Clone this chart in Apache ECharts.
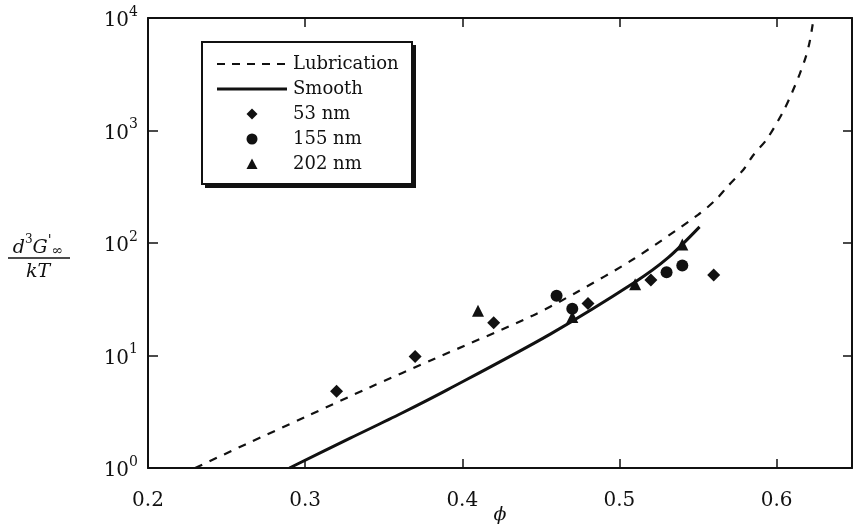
<!DOCTYPE html>
<html><head><meta charset="utf-8">
<script src="https://cdn.jsdelivr.net/npm/echarts@6/dist/echarts.min.js"></script>
<style>html,body{margin:0;padding:0;background:#fff}#c{width:853px;height:526px}</style>
</head><body><div id="c"></div>
<script>
// ---- data ----
const xMin = 0.2, xMax = 0.648, xStep = 0.1;
const yMin = 1, yMax = 10000;
const xTickLabels = ['0.2', '0.3', '0.4', '0.5', '0.6'];
const yTickExponents = [0, 1, 2, 3, 4];

const lubricationX = [0.230, 0.262, 0.301, 0.341, 0.382, 0.445, 0.472, 0.509, 0.550, 0.561, 0.569, 0.579, 0.585, 0.594, 0.6045, 0.610, 0.6147, 0.6185, 0.621, 0.623];
const lubricationY = [1.0, 1.62, 2.88, 5.2, 9.3, 22.7, 36, 72, 178, 240, 320, 450, 600, 845, 1500, 2200, 3170, 4470, 6080, 8800];

const smoothX = [0.290, 0.329, 0.361, 0.391, 0.456, 0.510, 0.531, 0.551];
const smoothY = [1.0, 1.85, 3.05, 5.0, 15.5, 45, 74, 139];

const nm53X = [0.32, 0.37, 0.42, 0.48, 0.52, 0.56];
const nm53Y = [4.8, 9.8, 19.5, 29, 47, 52];

const nm155X = [0.46, 0.47, 0.53, 0.54];
const nm155Y = [34, 26, 55, 63];

const nm202X = [0.41, 0.47, 0.51, 0.54];
const nm202Y = [25, 22, 43, 97];

const seriesNames = ['Lubrication', 'Smooth', '53 nm', '155 nm', '202 nm'];

// ---- build ----
const zip = (xs, ys) => xs.map((x, i) => [x, ys[i]]);
const FONT = 'DejaVu Serif';
const INK = '#111111';

// legend icons: a fixed 70x11 frame (two move-to points) so that symbols keep their shape
const FRAME = 'M0 0 M70 11 ';
const iconDashed = 'path://' + FRAME + [0, 15, 30, 45, 60].map(x => `M${x} 4.5 L${x + 8} 4.5 L${x + 8} 6.6 L${x} 6.6 Z`).join(' ');
const iconSolid = 'path://' + FRAME + 'M0 4 L70 4 L70 7 L0 7 Z';
const iconDiamond = 'path://' + FRAME + 'M35 0 L40.5 5.5 L35 11 L29.5 5.5 Z';
const iconCircle = 'path://' + FRAME + 'M40.5 5.5 A5.5 5.5 0 1 1 29.5 5.5 A5.5 5.5 0 1 1 40.5 5.5 Z';
const iconTriangle = 'path://' + FRAME + 'M35 0 L40.5 10.5 L29.5 10.5 Z';
const legendIcons = [iconDashed, iconSolid, iconDiamond, iconCircle, iconTriangle];

const chart = echarts.init(document.getElementById('c'), null, {renderer: 'canvas'});

const axisLineStyle = {lineStyle: {color: INK, width: 2}};

const option = {
  backgroundColor: '#ffffff',
  animation: false,
  grid: {left: 148, right: 1, top: 18, bottom: 58, outerBoundsMode: 'none'},
  xAxis: [
    {
      type: 'value', position: 'bottom', min: xMin, max: xMax, interval: xStep,
      axisLine: axisLineStyle,
      axisTick: {inside: true, length: 9, lineStyle: {color: INK, width: 1.5}},
      splitLine: {show: false},
      axisLabel: {
        margin: 23, showMaxLabel: false,
        fontFamily: FONT, fontSize: 20, color: INK,
        formatter: v => {
          const i = Math.round((v - xMin) / xStep);
          return (Math.abs(v - (xMin + i * xStep)) < 1e-6 && xTickLabels[i]) ? xTickLabels[i] : '';
        }
      },
      name: 'ϕ', nameLocation: 'middle', nameGap: 38, nameMoveOverlap: false,
      nameTextStyle: {fontFamily: FONT, fontStyle: 'italic', fontSize: 19, color: INK}
    },
    {
      type: 'value', position: 'top', min: xMin, max: xMax, interval: xStep,
      axisLine: axisLineStyle,
      axisTick: {inside: true, length: 9, lineStyle: {color: INK, width: 1.5}},
      axisLabel: {show: false}, splitLine: {show: false}
    }
  ],
  yAxis: [
    {
      type: 'log', logBase: 10, min: yMin, max: yMax, position: 'left',
      axisLine: axisLineStyle,
      axisTick: {inside: true, length: 10, lineStyle: {color: INK, width: 1.5}},
      minorTick: {show: false},
      splitLine: {show: false},
      axisLabel: {
        margin: 10,
        formatter: v => {
          const e = Math.round(Math.log10(v));
          return yTickExponents.includes(e) ? '{b|10}{s|' + e + '}' : '';
        },
        rich: {
          b: {fontFamily: FONT, fontSize: 20, color: INK, lineHeight: 26, verticalAlign: 'bottom'},
          s: {fontFamily: FONT, fontSize: 14, color: INK, lineHeight: 14, verticalAlign: 'top'}
        }
      }
    },
    {
      type: 'log', logBase: 10, min: yMin, max: yMax, position: 'right',
      axisLine: axisLineStyle,
      axisTick: {inside: true, length: 9, lineStyle: {color: INK, width: 1.5}},
      axisLabel: {show: false}, splitLine: {show: false}
    }
  ],
  legend: {
    orient: 'vertical', left: 217, top: 55, padding: 0,
    itemWidth: 70, itemHeight: 11, itemGap: 7,
    selectedMode: false, z: 20, symbolKeepAspect: true,
    data: seriesNames.map((n, i) => ({name: n, icon: legendIcons[i], itemStyle: {color: INK, opacity: 1}})),
    textStyle: {fontFamily: FONT, fontSize: 18, color: INK, padding: [0, 0, 0, 1]}
  },
  graphic: [
    {type: 'rect', z: 5, shape: {x: 205, y: 45, width: 211, height: 143}, style: {fill: INK}},
    {type: 'rect', z: 6, shape: {x: 202, y: 42, width: 210, height: 142}, style: {fill: '#fff', stroke: INK, lineWidth: 2}},
    {
      type: 'text', z: 10, x: 38, y: 246,
      style: {
        text: '{i|d}{p|3}{i|G}{r|\'}{q|∞}',
        align: 'center', verticalAlign: 'middle',
        rich: {
          i: {fontFamily: FONT, fontStyle: 'italic', fontSize: 19, fill: INK, lineHeight: 24, verticalAlign: 'bottom'},
          p: {fontFamily: FONT, fontSize: 12, fill: INK, lineHeight: 12, verticalAlign: 'top'},
          r: {fontFamily: FONT, fontStyle: 'italic', fontSize: 14, fill: INK, lineHeight: 14, verticalAlign: 'top'},
          q: {fontFamily: FONT, fontSize: 14, fill: INK, lineHeight: 12, verticalAlign: 'bottom'}
        }
      }
    },
    {type: 'line', z: 10, shape: {x1: 8, y1: 258, x2: 70, y2: 258}, style: {stroke: INK, lineWidth: 1.5}},
    {
      type: 'text', z: 10, x: 38, y: 272,
      style: {text: 'kT', align: 'center', verticalAlign: 'middle', fontFamily: FONT, fontStyle: 'italic', fontSize: 19, fill: INK}
    }
  ],
  series: [
    {
      name: seriesNames[0], type: 'line', data: zip(lubricationX, lubricationY),
      symbol: 'none', smooth: 0.3, z: 3,
      lineStyle: {color: INK, width: 2.2, type: [8, 8]}, itemStyle: {color: INK}
    },
    {
      name: seriesNames[1], type: 'line', data: zip(smoothX, smoothY),
      symbol: 'none', smooth: 0.3, z: 3,
      lineStyle: {color: INK, width: 3, type: 'solid'}, itemStyle: {color: INK}
    },
    {name: seriesNames[2], type: 'scatter', data: zip(nm53X, nm53Y), symbol: 'diamond', symbolSize: 13, itemStyle: {color: INK, opacity: 1}, z: 4},
    {name: seriesNames[3], type: 'scatter', data: zip(nm155X, nm155Y), symbol: 'circle', symbolSize: 12, itemStyle: {color: INK, opacity: 1}, z: 4},
    {name: seriesNames[4], type: 'scatter', data: zip(nm202X, nm202Y), symbol: 'triangle', symbolSize: 12, itemStyle: {color: INK, opacity: 1}, z: 4}
  ]
};
chart.setOption(option);
</script>
</body></html>
